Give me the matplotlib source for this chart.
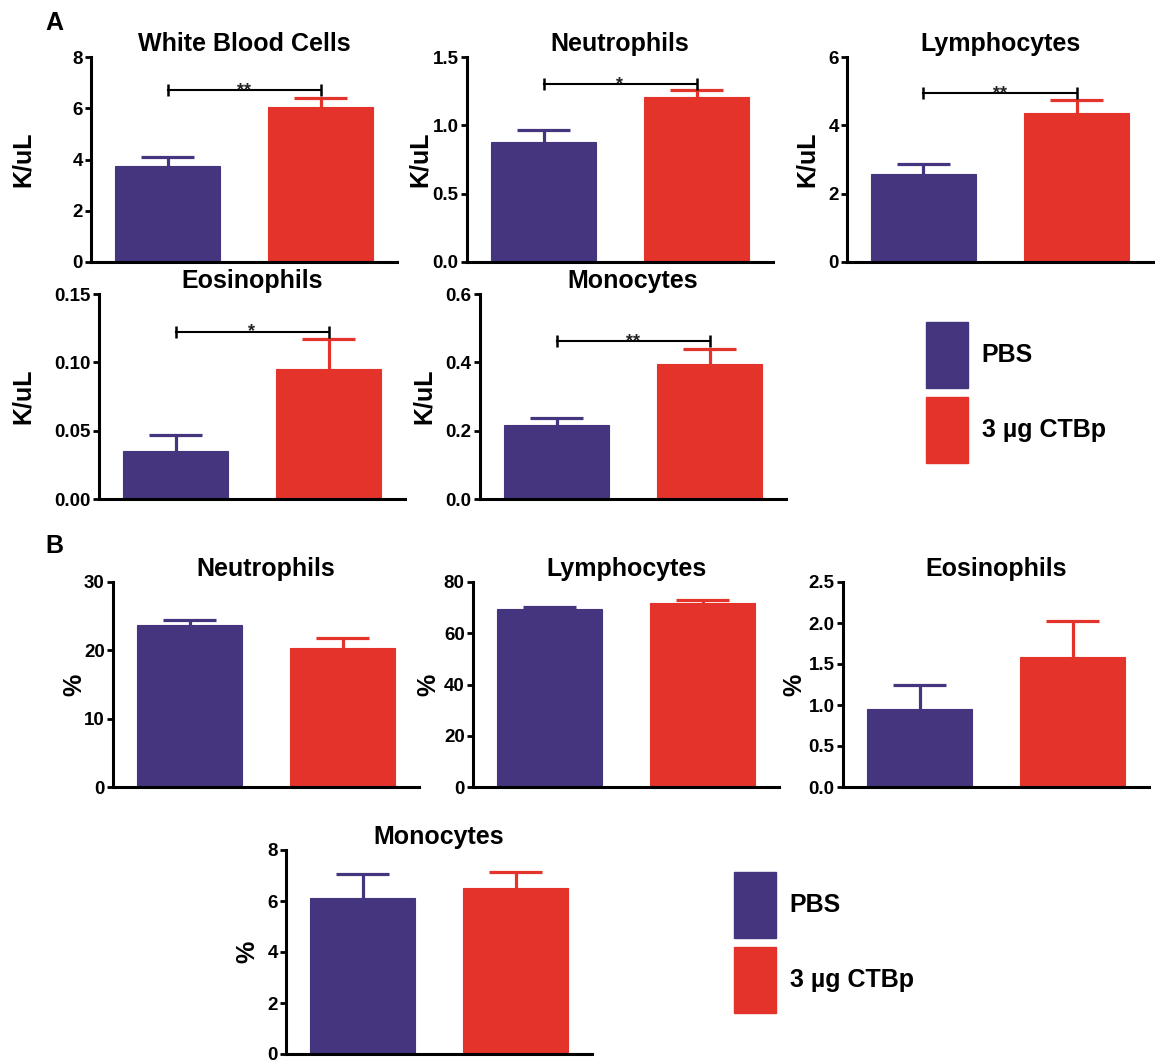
import numpy as np
import matplotlib
matplotlib.use("Agg")
import matplotlib.pyplot as plt
from matplotlib.patches import Patch
from matplotlib.ticker import FormatStrFormatter

plt.rcParams['font.family'] = ['Liberation Sans', 'DejaVu Sans']
plt.rcParams['font.weight'] = 'bold'

# -------------------------
# Data (mean, SEM) for PBS vs 3 µg CTBp
# -------------------------
groups = ["PBS", "3 µg CTBp"]
colors = ["#44357e", "#e3332b"]

# A: absolute counts (K/uL)
wbc_mean = [3.76, 6.06]
wbc_sem = [0.33, 0.35]
neut_abs_mean = [0.88, 1.205]
neut_abs_sem = [0.086, 0.05]
lym_abs_mean = [2.58, 4.35]
lym_abs_sem = [0.30, 0.39]
eos_abs_mean = [0.035, 0.095]
eos_abs_sem = [0.0115, 0.022]
mono_abs_mean = [0.218, 0.395]
mono_abs_sem = [0.018, 0.0435]

# significance brackets: (height, stars)
wbc_sig = (6.71, "**")
neut_abs_sig = (1.30, "*")
lym_abs_sig = (4.94, "**")
eos_abs_sig = (0.1225, "*")
mono_abs_sig = (0.461, "**")

# B: percentages
neut_pct_mean = [23.7, 20.3]
neut_pct_sem = [0.7, 1.5]
lym_pct_mean = [69.4, 71.8]
lym_pct_sem = [0.8, 1.3]
eos_pct_mean = [0.947, 1.59]
eos_pct_sem = [0.30, 0.43]
mono_pct_mean = [6.13, 6.52]
mono_pct_sem = [0.92, 0.61]

# y ticks per panel
wbc_ticks = [0, 2, 4, 6, 8]
neut_abs_ticks = [0.0, 0.5, 1.0, 1.5]
lym_abs_ticks = [0, 2, 4, 6]
eos_abs_ticks = [0.00, 0.05, 0.10, 0.15]
mono_abs_ticks = [0.0, 0.2, 0.4, 0.6]
neut_pct_ticks = [0, 10, 20, 30]
lym_pct_ticks = [0, 20, 40, 60, 80]
eos_pct_ticks = [0.0, 0.5, 1.0, 1.5, 2.0, 2.5]
mono_pct_ticks = [0, 2, 4, 6, 8]

W, H = 1155, 1064
fig = plt.figure(figsize=(W / 100, H / 100), dpi=100)

BAR_W = 0.69
CAP_HALF = 0.175


def px_axes(left, right, top, bottom):
    return fig.add_axes([left / W, 1 - bottom / H, (right - left) / W, (bottom - top) / H])


def bar_panel(ax, title, ylabel, means, sems, ticks, fmt, ylab_x, sig=None):
    x = np.arange(len(means))
    ax.bar(x, means, width=BAR_W, color=colors, edgecolor=colors, linewidth=0.8, zorder=2)
    # upper-only SEM bars in the bar colour
    tops = np.array(means) + np.array(sems)
    ax.vlines(x, means, tops, colors=colors, lw=2.3, zorder=1)
    ax.hlines(tops, x - CAP_HALF, x + CAP_HALF, colors=colors, lw=2.3, zorder=1)
    ax.set_xlim(-0.5, 1.5)
    ax.set_ylim(ticks[0], ticks[-1])
    ax.set_yticks(ticks)
    ax.yaxis.set_major_formatter(FormatStrFormatter(fmt))
    ax.set_xticks([])
    for side in ("top", "right"):
        ax.spines[side].set_visible(False)
    for side in ("left", "bottom"):
        ax.spines[side].set_linewidth(2.2)
    ax.tick_params(axis="y", length=4, width=2, pad=2, labelsize=13.5)
    ax.set_title(title, fontsize=18, fontweight="bold", pad=4)
    ax.set_ylabel(ylabel, fontsize=18, fontweight="bold", va="center")
    ax.yaxis.set_label_coords(ylab_x, 0.5)
    ax.patch.set_alpha(0)
    if sig is not None:
        y, stars = sig
        ax.plot([0, 1], [y, y], color="black", lw=1.5, zorder=3)
        ax.plot([0, 1], [y, y], ls="none", marker="|", ms=8, mew=1.8, color="black")
        ax.annotate(stars, (0.5, y), xytext=(0, -3.5), textcoords="offset points",
                    ha="center", va="baseline", fontsize=13, fontweight="bold",
                    color="#222222")


def ylab(center_px, left, right):
    return (center_px - left) / (right - left)


# ---- Panel A ----
ax = px_axes(91, 397, 57, 262)
bar_panel(ax, "White Blood Cells", "K/uL", wbc_mean, wbc_sem, wbc_ticks, "%d",
          ylab(22.5, 91, 397), wbc_sig)

ax = px_axes(467, 773, 57, 262)
bar_panel(ax, "Neutrophils", "K/uL", neut_abs_mean, neut_abs_sem, neut_abs_ticks, "%.1f",
          ylab(420, 467, 773), neut_abs_sig)

ax = px_axes(847, 1153, 57, 262)
bar_panel(ax, "Lymphocytes", "K/uL", lym_abs_mean, lym_abs_sem, lym_abs_ticks, "%d",
          ylab(806.5, 847, 1153), lym_abs_sig)

ax = px_axes(99, 405, 294, 499)
bar_panel(ax, "Eosinophils", "K/uL", eos_abs_mean, eos_abs_sem, eos_abs_ticks, "%.2f",
          ylab(22.5, 99, 405), eos_abs_sig)

ax = px_axes(480, 786, 294, 499)
bar_panel(ax, "Monocytes", "K/uL", mono_abs_mean, mono_abs_sem, mono_abs_ticks, "%.1f",
          ylab(424, 480, 786), mono_abs_sig)

# ---- Panel B ----
ax = px_axes(113, 419, 582, 787)
bar_panel(ax, "Neutrophils", "%", neut_pct_mean, neut_pct_sem, neut_pct_ticks, "%d",
          ylab(74, 113, 419))

ax = px_axes(473, 779, 582, 787)
bar_panel(ax, "Lymphocytes", "%", lym_pct_mean, lym_pct_sem, lym_pct_ticks, "%d",
          ylab(428, 473, 779))

ax = px_axes(843, 1149, 582, 787)
bar_panel(ax, "Eosinophils", "%", eos_pct_mean, eos_pct_sem, eos_pct_ticks, "%.1f",
          ylab(794, 843, 1149))

ax = px_axes(286, 592, 850, 1054)
bar_panel(ax, "Monocytes", "%", mono_pct_mean, mono_pct_sem, mono_pct_ticks, "%d",
          ylab(247.5, 286, 592))

# panel letters
fig.text(45 / W, 1 - 30 / H, "A", fontsize=18, fontweight="bold", va="baseline")
fig.text(45 / W, 1 - 553 / H, "B", fontsize=18, fontweight="bold", va="baseline")

# legends
handles = [Patch(facecolor=c, edgecolor=c) for c in colors]
leg_kw = dict(loc="upper left", frameon=False, handlelength=1.68,
              handleheight=3.69, labelspacing=0.36, handletextpad=0.55,
              borderpad=0, borderaxespad=0, prop={"weight": "bold", "size": 18})
fig.legend(handles, groups, bbox_to_anchor=(926 / W, 1 - 322 / H), **leg_kw)
fig.legend(handles, groups, bbox_to_anchor=(734 / W, 1 - 872 / H), **leg_kw)

fig.savefig("out.png", dpi=100, facecolor="white")
